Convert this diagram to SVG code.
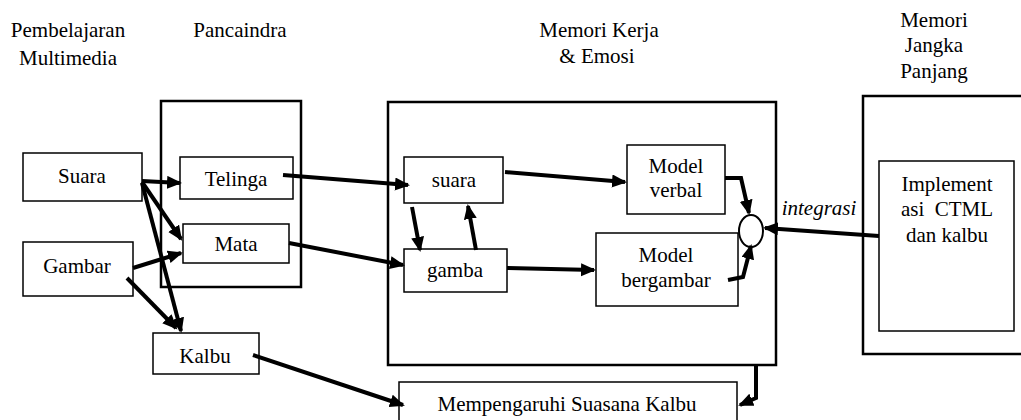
<svg xmlns="http://www.w3.org/2000/svg" width="1021" height="420" viewBox="0 0 1021 420">
<style>
text{font-family:"Liberation Serif","Times New Roman",serif;font-size:21px;fill:#000;text-anchor:middle}
.it{font-style:italic}
.outer{fill:none;stroke:#000;stroke-width:2.5}
.box{fill:#fff;stroke:#000;stroke-width:1.5}
.con{fill:none;stroke:#000;stroke-width:4;stroke-linejoin:miter}
.con path,.con polyline{marker-end:url(#ah)}
</style>
<defs>
<marker id="ah" markerUnits="userSpaceOnUse" markerWidth="16" markerHeight="14" refX="13" refY="6.5" orient="auto">
<path d="M0,0 L15,6.5 L0,13 z" fill="#000"/>
</marker>
</defs>

<g id="titles">
<text x="68" y="37">Pembelajaran</text>
<text x="68" y="65">Multimedia</text>
<text x="240" y="37">Pancaindra</text>
<text x="599" y="37">Memori Kerja</text>
<text x="597" y="63">&amp; Emosi</text>
<text x="934" y="27">Memori</text>
<text x="934" y="52">Jangka</text>
<text x="934" y="78">Panjang</text>
</g>

<g id="pancaindra"><rect class="outer" x="161" y="101" width="140" height="186" stroke-width="3"/></g>
<g id="memori-kerja"><rect class="outer" x="388" y="102" width="388" height="263"/></g>
<g id="memori-jangka-panjang"><rect class="outer" x="863" y="96" width="170" height="258"/></g>

<g id="suara"><rect class="box" x="23" y="153" width="119" height="48"/><text x="82" y="183">Suara</text></g>
<g id="gambar"><rect class="box" x="23" y="242" width="110" height="54"/><text x="77" y="273">Gambar</text></g>
<g id="telinga"><rect class="box" x="180" y="157" width="113" height="42"/><text x="236" y="186">Telinga</text></g>
<g id="mata"><rect class="box" x="183" y="224" width="106" height="39"/><text x="236" y="251">Mata</text></g>
<g id="kalbu"><rect class="box" x="153" y="333" width="106" height="41"/><text x="205" y="363">Kalbu</text></g>
<g id="suara-wm"><rect class="box" x="404" y="157" width="99" height="46"/><text x="454" y="187">suara</text></g>
<g id="gamba"><rect class="box" x="404" y="249" width="103" height="43"/><text x="455" y="277">gamba</text></g>
<g id="model-verbal"><rect class="box" x="627" y="145" width="98" height="69"/><text x="676" y="173">Model</text><text x="676" y="197">verbal</text></g>
<g id="model-bergambar"><rect class="box" x="596" y="233" width="142" height="73"/><text x="666" y="262">Model</text><text x="666" y="287">bergambar</text></g>
<g id="integrasi-node"><ellipse cx="751" cy="231" rx="12" ry="16" fill="#fff" stroke="#000" stroke-width="2"/></g>
<g id="implementasi"><rect class="box" x="879" y="161" width="135" height="170"/><text x="947" y="191">Implement</text><text x="947" y="216" xml:space="preserve">asi  CTML</text><text x="947" y="242">dan kalbu</text></g>
<g id="mempengaruhi"><rect class="box" x="399" y="382" width="338" height="50"/><text x="567" y="411">Mempengaruhi Suasana Kalbu</text></g>

<g id="connectors" class="con">
<path d="M142,181 L180,183"/>
<path d="M142,182 L181,239"/>
<path d="M142,183 L181,331"/>
<path d="M133,268 L181,253"/>
<path d="M127,278 L176,328"/>
<path d="M253,355 L403,405"/>
<path d="M283,175 L408,185"/>
<path d="M289,243 L403,265"/>
<path d="M412,207 L420,250"/>
<path d="M476,250 L468,206"/>
<path d="M505,172 L625,182"/>
<path d="M507,268 L594,270"/>
<polyline points="725,178 741,178 749,213"/>
<polyline points="728,280 743,277 751,246"/>
<path d="M879,236 L765,228"/>
<polyline points="756,365 756,398 740,405"/>
</g>
<text class="it" x="819" y="215">integrasi</text>
</svg>
